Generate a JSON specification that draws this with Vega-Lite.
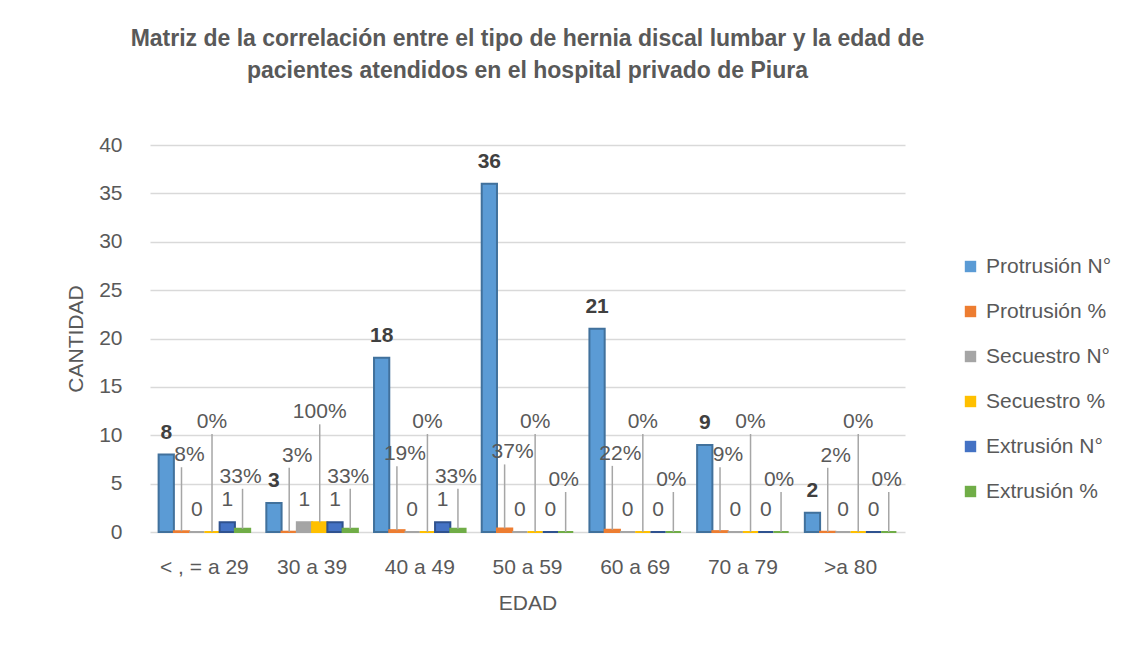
{
  "$schema": "https://vega.github.io/schema/vega-lite/v6.json",
  "width": 755,
  "height": 387,
  "autosize": {"type": "none"},
  "padding": {"left": 150, "top": 145, "right": 239, "bottom": 119},
  "background": "white",
  "config": {
    "font": "Liberation Sans",
    "view": {"stroke": null},
    "axis": {"labelColor": "#595959", "titleColor": "#595959", "labelFont": "Liberation Sans", "titleFont": "Liberation Sans"}
  },
  "title": {
    "text": ["Matriz de la correlación entre el tipo de hernia discal lumbar y la edad de", "pacientes atendidos en el hospital privado de Piura"],
    "font": "Liberation Sans",
    "fontSize": 23,
    "fontWeight": "bold",
    "color": "#595959",
    "anchor": "middle",
    "frame": "group",
    "offset": 51,
    "lineHeight": 32
  },
  "data": {
    "values": [
      {"edad": "< , = a 29", "serie": "Protrusión N°", "valor": 8},
      {"edad": "< , = a 29", "serie": "Protrusión %", "valor": 0.08},
      {"edad": "< , = a 29", "serie": "Secuestro N°", "valor": 0},
      {"edad": "< , = a 29", "serie": "Secuestro %", "valor": 0},
      {"edad": "< , = a 29", "serie": "Extrusión N°", "valor": 1},
      {"edad": "< , = a 29", "serie": "Extrusión %", "valor": 0.33},
      {"edad": "30 a 39", "serie": "Protrusión N°", "valor": 3},
      {"edad": "30 a 39", "serie": "Protrusión %", "valor": 0.03},
      {"edad": "30 a 39", "serie": "Secuestro N°", "valor": 1},
      {"edad": "30 a 39", "serie": "Secuestro %", "valor": 1},
      {"edad": "30 a 39", "serie": "Extrusión N°", "valor": 1},
      {"edad": "30 a 39", "serie": "Extrusión %", "valor": 0.33},
      {"edad": "40   a 49", "serie": "Protrusión N°", "valor": 18},
      {"edad": "40   a 49", "serie": "Protrusión %", "valor": 0.19},
      {"edad": "40   a 49", "serie": "Secuestro N°", "valor": 0},
      {"edad": "40   a 49", "serie": "Secuestro %", "valor": 0},
      {"edad": "40   a 49", "serie": "Extrusión N°", "valor": 1},
      {"edad": "40   a 49", "serie": "Extrusión %", "valor": 0.33},
      {"edad": "50 a 59", "serie": "Protrusión N°", "valor": 36},
      {"edad": "50 a 59", "serie": "Protrusión %", "valor": 0.37},
      {"edad": "50 a 59", "serie": "Secuestro N°", "valor": 0},
      {"edad": "50 a 59", "serie": "Secuestro %", "valor": 0},
      {"edad": "50 a 59", "serie": "Extrusión N°", "valor": 0},
      {"edad": "50 a 59", "serie": "Extrusión %", "valor": 0},
      {"edad": "60 a 69", "serie": "Protrusión N°", "valor": 21},
      {"edad": "60 a 69", "serie": "Protrusión %", "valor": 0.22},
      {"edad": "60 a 69", "serie": "Secuestro N°", "valor": 0},
      {"edad": "60 a 69", "serie": "Secuestro %", "valor": 0},
      {"edad": "60 a 69", "serie": "Extrusión N°", "valor": 0},
      {"edad": "60 a 69", "serie": "Extrusión %", "valor": 0},
      {"edad": "70 a 79", "serie": "Protrusión N°", "valor": 9},
      {"edad": "70 a 79", "serie": "Protrusión %", "valor": 0.09},
      {"edad": "70 a 79", "serie": "Secuestro N°", "valor": 0},
      {"edad": "70 a 79", "serie": "Secuestro %", "valor": 0},
      {"edad": "70 a 79", "serie": "Extrusión N°", "valor": 0},
      {"edad": "70 a 79", "serie": "Extrusión %", "valor": 0},
      {"edad": ">a 80", "serie": "Protrusión N°", "valor": 2},
      {"edad": ">a 80", "serie": "Protrusión %", "valor": 0.02},
      {"edad": ">a 80", "serie": "Secuestro N°", "valor": 0},
      {"edad": ">a 80", "serie": "Secuestro %", "valor": 0},
      {"edad": ">a 80", "serie": "Extrusión N°", "valor": 0},
      {"edad": ">a 80", "serie": "Extrusión %", "valor": 0}
    ]
  },
  "encoding": {
    "x": {
      "field": "edad", "type": "nominal", "sort": null,
      "scale": {"paddingInner": 0.15, "paddingOuter": 0.08},
      "axis": {"title": "EDAD", "labelAngle": 0, "labelFontSize": 21, "titleFontSize": 21, "titleFontWeight": "normal", "domain": false, "ticks": false, "labelPadding": 24, "titlePadding": 15}
    },
    "xOffset": {"field": "serie", "type": "nominal", "sort": ["Protrusión N°", "Protrusión %", "Secuestro N°", "Secuestro %", "Extrusión N°", "Extrusión %"]},
    "y": {
      "field": "valor", "type": "quantitative",
      "scale": {"domain": [0, 40]},
      "axis": {"title": "CANTIDAD", "values": [0, 5, 10, 15, 20, 25, 30, 35, 40], "labelFontSize": 21, "titleFontSize": 21, "titleFontWeight": "normal", "domain": false, "ticks": false, "labelPadding": 28, "titlePadding": 12, "gridColor": "#D9D9D9", "gridWidth": 1.5}
    }
  },
  "layer": [
    {
      "mark": {"type": "bar", "strokeWidth": 2},
      "encoding": {
        "color": {
          "field": "serie", "type": "nominal",
          "scale": {"domain": ["Protrusión N°", "Protrusión %", "Secuestro N°", "Secuestro %", "Extrusión N°", "Extrusión %"], "range": ["#5B9BD5", "#ED7D31", "#A5A5A5", "#FFC000", "#4472C4", "#70AD47"]},
          "legend": {"title": null, "orient": "none", "legendX": 810, "legendY": 111, "symbolType": "square", "symbolSize": 130, "symbolStrokeWidth": 0, "labelFontSize": 21, "labelColor": "#595959", "rowPadding": 23, "labelOffset": 5, "labelLimit": 300}
        },
        "stroke": {
          "field": "serie", "type": "nominal", "legend": null,
          "scale": {"domain": ["Protrusión N°", "Protrusión %", "Secuestro N°", "Secuestro %", "Extrusión N°", "Extrusión %"], "range": ["#41719C", "#ED7D31", "#A5A5A5", "#FFC000", "#2F528F", "#70AD47"]}
        }
      }
    },
    {
      "transform": [{"filter": "datum.serie === 'Protrusión %'"}],
      "mark": {"type": "rule", "color": "#A6A6A6", "strokeWidth": 1.5, "y2Offset": -64},
      "encoding": {"y2": {"field": "valor"}}
    },
    {
      "transform": [{"filter": "datum.serie === 'Extrusión %'"}],
      "mark": {"type": "rule", "color": "#A6A6A6", "strokeWidth": 1.5, "y2Offset": -40},
      "encoding": {"y2": {"field": "valor"}}
    },
    {
      "transform": [{"filter": "datum.serie === 'Secuestro %'"}],
      "mark": {"type": "rule", "color": "#A6A6A6", "strokeWidth": 1.5, "y2Offset": -98},
      "encoding": {"y2": {"field": "valor"}}
    },
    {
      "transform": [{"filter": "datum.serie === 'Protrusión N°'"}],
      "mark": {"type": "text", "baseline": "bottom", "dy": -12, "fontSize": 21, "fontWeight": "bold", "color": "#404040"},
      "encoding": {"text": {"field": "valor", "type": "quantitative", "format": "d"}}
    },
    {
      "transform": [{"filter": "datum.serie === 'Protrusión %'"}],
      "mark": {"type": "text", "baseline": "bottom", "dy": -66, "dx": 8, "fontSize": 21, "color": "#595959"},
      "encoding": {"text": {"field": "valor", "type": "quantitative", "format": ".0%"}}
    },
    {
      "transform": [{"filter": "datum.serie === 'Extrusión %'"}],
      "mark": {"type": "text", "baseline": "bottom", "dy": -42, "dx": -2, "fontSize": 21, "color": "#595959"},
      "encoding": {"text": {"field": "valor", "type": "quantitative", "format": ".0%"}}
    },
    {
      "transform": [{"filter": "datum.serie === 'Secuestro %'"}],
      "mark": {"type": "text", "baseline": "bottom", "dy": -100, "fontSize": 21, "color": "#595959"},
      "encoding": {"text": {"field": "valor", "type": "quantitative", "format": ".0%"}}
    },
    {
      "transform": [{"filter": "datum.serie === 'Secuestro N°' || datum.serie === 'Extrusión N°'"}],
      "mark": {"type": "text", "baseline": "bottom", "dy": -12, "fontSize": 21, "color": "#595959"},
      "encoding": {"text": {"field": "valor", "type": "quantitative", "format": "d"}}
    }
  ]
}
